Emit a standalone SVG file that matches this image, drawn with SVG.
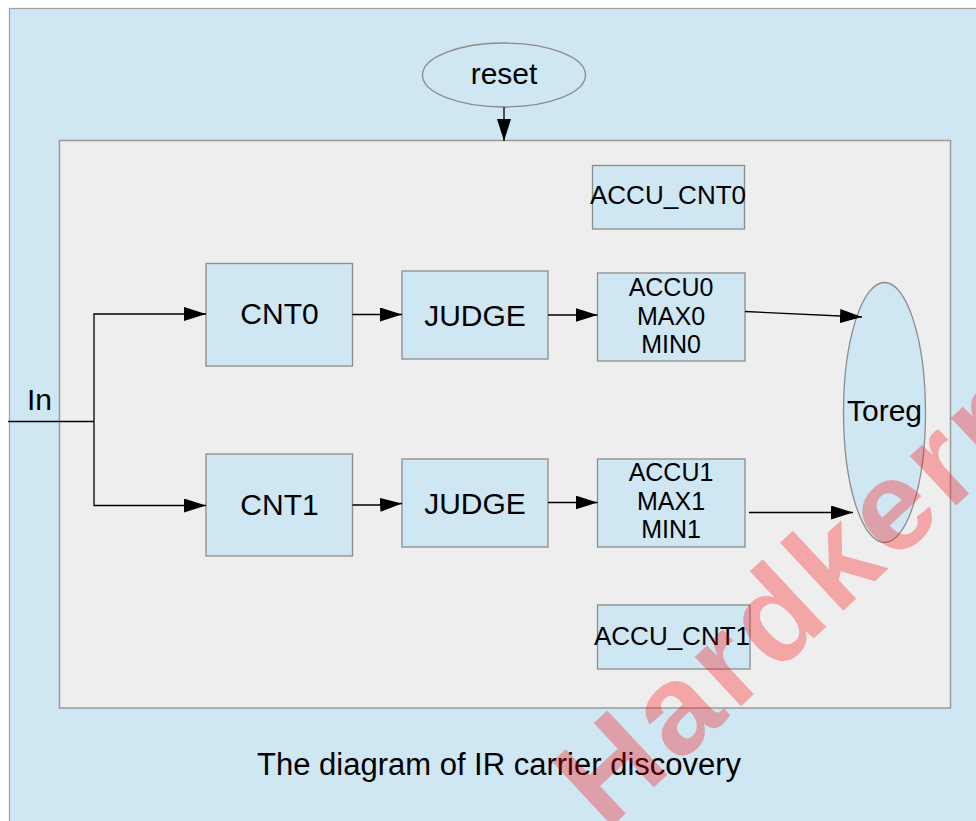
<svg xmlns="http://www.w3.org/2000/svg" width="976" height="821" viewBox="0 0 976 821">
<defs>
<style>
.bg{fill:#cfe6f3;stroke:#a0a0a0;stroke-width:1.2}
.panel{fill:#eeeeee;stroke:#9a9a9a;stroke-width:1.5}
.box{fill:#cfe6f3;stroke:#8c8c8c;stroke-width:1.3}
.t{font-family:"Liberation Sans",Arial,sans-serif;fill:#000}
.c{text-anchor:middle}
.l30{font-size:30px}
.l31{font-size:31px}
.l25{font-size:25px}
.l26{font-size:26px}
.conn path{fill:none;stroke:#000;stroke-width:1.3}
.wm{font-family:"Liberation Sans",Arial,sans-serif;font-weight:bold;font-size:128px;letter-spacing:6px;fill:#ff0000;fill-opacity:0.3}
</style>
<marker id="arr" markerUnits="userSpaceOnUse" markerWidth="22" markerHeight="14" refX="22" refY="7" orient="auto">
<path d="M0,0 L22,7 L0,14 z" fill="#000"/>
</marker>
</defs>
<rect x="0" y="0" width="976" height="821" fill="#ffffff"/>
<rect class="bg" x="9.5" y="8.5" width="990" height="840"/>
<g id="panel"><rect class="panel" x="59.5" y="140.5" width="891" height="567.5"/></g>

<g id="reset"><ellipse class="box" cx="504" cy="75" rx="81.5" ry="32"/><text class="t c l30" x="504" y="84">reset</text></g>
<g id="accu_cnt0"><rect class="box" x="592.5" y="165.5" width="152" height="63.5"/><text class="t c l26" x="668" y="204">ACCU_CNT0</text></g>
<g id="cnt0"><rect class="box" x="206" y="263.5" width="146.5" height="102.5"/><text class="t c l30" x="279.5" y="324">CNT0</text></g>
<g id="judge0"><rect class="box" x="402" y="271" width="146" height="88"/><text class="t c l30" x="475" y="325.5">JUDGE</text></g>
<g id="accu0"><rect class="box" x="597.5" y="273" width="147.5" height="88"/>
<text class="t c l25" x="671" y="296">ACCU0</text><text class="t c l25" x="671" y="324.5">MAX0</text><text class="t c l25" x="671" y="353">MIN0</text></g>
<g id="toreg"><ellipse class="box" cx="884.5" cy="412.5" rx="41" ry="130"/><text class="t c l30" x="884.5" y="421">Toreg</text></g>
<g id="in"><text class="t l30" x="27" y="409.5">In</text></g>
<g id="cnt1"><rect class="box" x="206" y="454" width="146.5" height="102"/><text class="t c l30" x="279.5" y="515">CNT1</text></g>
<g id="judge1"><rect class="box" x="402" y="459" width="146" height="88"/><text class="t c l30" x="475" y="513.5">JUDGE</text></g>
<g id="accu1"><rect class="box" x="597.5" y="459" width="147.5" height="88"/>
<text class="t c l25" x="671" y="481">ACCU1</text><text class="t c l25" x="671" y="509.5">MAX1</text><text class="t c l25" x="671" y="538">MIN1</text></g>
<g id="accu_cnt1"><rect class="box" x="597.5" y="605" width="152.5" height="64"/><text class="t c l26" x="672" y="645">ACCU_CNT1</text></g>
<g id="caption"><text class="t l31" x="257" y="775">The diagram of IR carrier discovery</text></g>

<g id="connectors" class="conn">
<path d="M504,107 L504,141" marker-end="url(#arr)"/>
<path d="M8,421.5 H94"/>
<path d="M94,421.5 V314 H206" marker-end="url(#arr)"/>
<path d="M94,421.5 V505.5 H206" marker-end="url(#arr)"/>
<path d="M352.5,314.5 H402" marker-end="url(#arr)"/>
<path d="M352.5,505 H378 L402,503.5" marker-end="url(#arr)"/>
<path d="M548,315 H597.5" marker-end="url(#arr)"/>
<path d="M548,502.5 H597.5" marker-end="url(#arr)"/>
<path d="M745,311.5 L862,317" marker-end="url(#arr)"/>
<path d="M749,512.5 H853" marker-end="url(#arr)"/>
</g>

<g id="watermark"><text class="wm" transform="translate(606,832) rotate(-43)">Hardkernel</text></g>
</svg>
